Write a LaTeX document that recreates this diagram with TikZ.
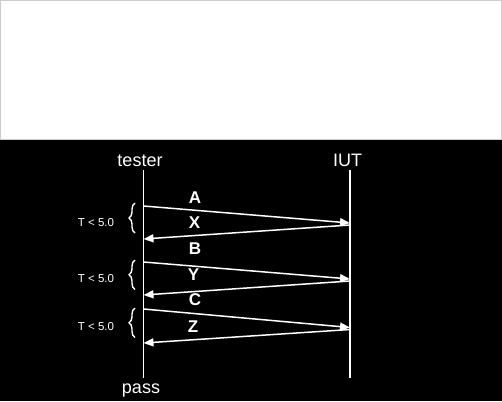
\documentclass[tikz,border=0pt]{standalone}
\usepackage{fontspec}
\setmainfont{Liberation Sans}
\usetikzlibrary{arrows.meta,decorations.pathreplacing}
\begin{document}
\begin{tikzpicture}[x=1pt,y=-1pt,
  lifeline/.style={draw=white,line width=1.5pt},
  msg/.style={draw=white,line width=1.5pt,-{Triangle[length=10pt,width=8pt]}},
  msglabel/.style={text=white,font=\fontsize{17}{17}\selectfont\bfseries,inner sep=0pt},
  actor/.style={text=white,font=\fontsize{18}{18}\selectfont,inner sep=0pt,anchor=base},
  timelabel/.style={text=white,font=\fontsize{11.5}{11.5}\selectfont,inner sep=0pt},
  timebrace/.style={draw=white,line width=1.4pt,decorate,decoration={brace,amplitude=6pt}}]
\useasboundingbox (0,0) rectangle (502,401);
\fill[black] (0,0) rectangle (502,401);
\filldraw[fill=white,draw=black!20,line width=1pt] (0.5,0.5) rectangle (501.5,139);
% actors
\node[actor] (tester) at (140,166.5) {tester};
\node[actor] (iut) at (347.5,166.5) {IUT};
\node[actor] (pass) at (141,393) {pass};
% lifelines
\coordinate (ttop) at (143.5,170);
\coordinate (tbot) at (143.5,378);
\coordinate (itop) at (350,170);
\coordinate (ibot) at (350,378);
\path[lifeline] (ttop) -- (tbot);
\path[lifeline] (itop) -- (ibot);
% message points
\coordinate (tA) at (143.5,206);
\coordinate (iA) at (350,223);
\coordinate (iX) at (350,225);
\coordinate (tX) at (143.5,239);
\coordinate (tB) at (143.5,262);
\coordinate (iB) at (350,279);
\coordinate (iY) at (350,281);
\coordinate (tY) at (143.5,295);
\coordinate (tC) at (143.5,309);
\coordinate (iC) at (350,327.5);
\coordinate (iZ) at (350,329.5);
\coordinate (tZ) at (143.5,343);
\path[msg] (tA) -- (iA);
\path[msg] (iX) -- (tX);
\path[msg] (tB) -- (iB);
\path[msg] (iY) -- (tY);
\path[msg] (tC) -- (iC);
\path[msg] (iZ) -- (tZ);
% labels
\node[msglabel] (lA) at (195,198) {A};
\node[msglabel] (lX) at (194.5,223) {X};
\node[msglabel] (lB) at (195,249) {B};
\node[msglabel] (lY) at (193.5,274.5) {Y};
\node[msglabel] (lC) at (195,299.5) {C};
\node[msglabel] (lZ) at (193,326.5) {Z};
% braces
\coordinate (b1s) at (135,233);
\coordinate (b1e) at (135,203);
\coordinate (b2s) at (135,289.5);
\coordinate (b2e) at (135,260);
\coordinate (b3s) at (135,337.5);
\coordinate (b3e) at (135,308);
\path[timebrace] (b1s) -- (b1e);
\path[timebrace] (b2s) -- (b2e);
\path[timebrace] (b3s) -- (b3e);
\node[timelabel] (T1) at (96,223) {T < 5.0};
\node[timelabel] (T2) at (96,279) {T < 5.0};
\node[timelabel] (T3) at (96,326.5) {T < 5.0};
\end{tikzpicture}
\end{document}
